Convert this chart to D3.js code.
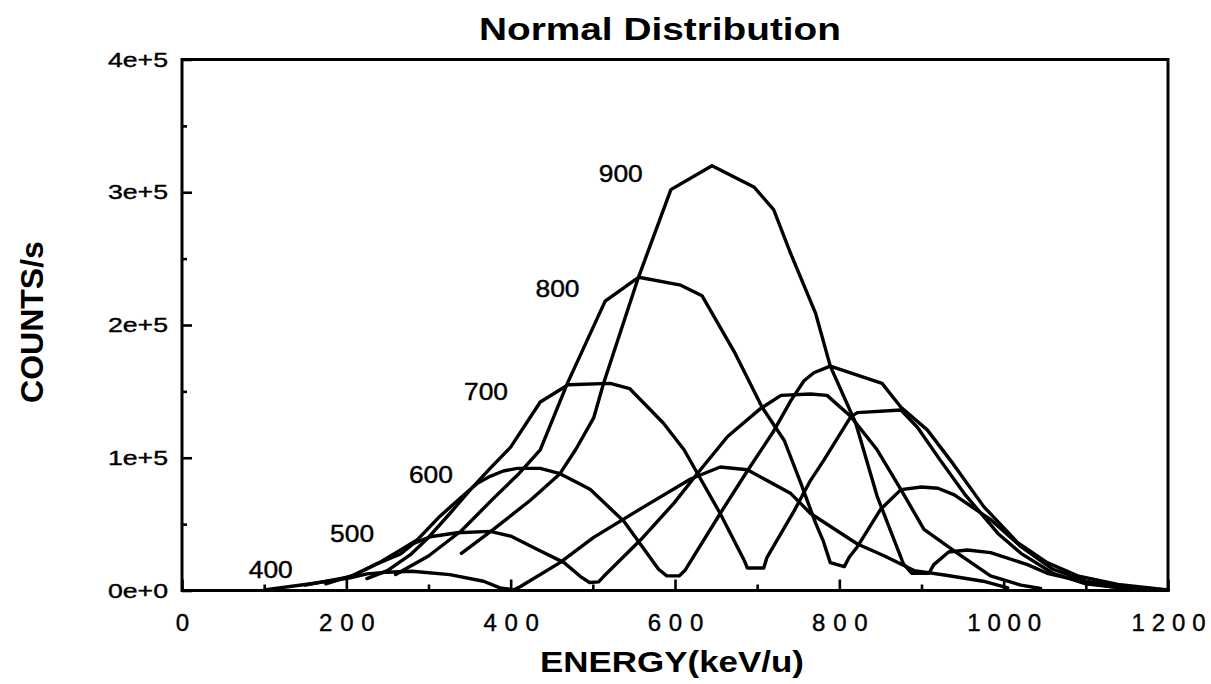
<!DOCTYPE html>
<html>
<head>
<meta charset="utf-8">
<script src="https://cdn.jsdelivr.net/npm/d3@7"></script>
<style>
  body { margin: 0; background: #fff; }
  text { font-family: "Liberation Sans", Arial, Helvetica, sans-serif; fill: #000; }
</style>
</head>
<body>
<svg id="chart" width="1211" height="684"></svg>
<script>
// energy (keV/u) and counts/s for each beam energy
var e400 = [100, 150, 205, 225, 250, 280, 326, 367, 387, 404, 412, 420, 460, 501, 562, 619, 655, 688, 741, 765, 822, 855, 891, 930, 975, 1005];
var c400 = [500, 4500, 9500, 12500, 13800, 14500, 12000, 7000, 2000, 500, 3000, 6000, 21000, 40000, 63000, 84000, 93000, 91000, 73000, 58000, 35000, 26000, 15000, 11500, 7000, 2000];

var e500 = [150, 205, 237, 266, 282, 302, 335, 375, 400, 432, 465, 485, 496, 507, 513, 558, 599, 627, 664, 704, 729, 765, 785, 814, 846, 875, 903, 944, 984, 1021, 1045];
var c500 = [4000, 10500, 20000, 27500, 35500, 40500, 43500, 44500, 41000, 31000, 21000, 10500, 6000, 6500, 10500, 38000, 66000, 88000, 116000, 137000, 147000, 148000, 147000, 131000, 106000, 76000, 46000, 28000, 11000, 4000, 1500];

var e600 = [175, 211, 240, 266, 286, 314, 343, 359, 375, 391, 408, 436, 460, 485, 497, 538, 580, 590, 605, 612, 655, 688, 720, 741, 757, 769, 789, 852, 875, 907, 939, 976, 1017, 1053, 1090, 1139, 1200];
var c600 = [5000, 12000, 21000, 30500, 38000, 56000, 72000, 80500, 86000, 90000, 92000, 92000, 88000, 80000, 76000, 52000, 16000, 11000, 11000, 15000, 58000, 90000, 120000, 143000, 158000, 164000, 169000, 156000, 138000, 121000, 95000, 63000, 36000, 21000, 11000, 4500, 500];

var e700 = [225, 250, 278, 300, 326, 351, 375, 400, 436, 470, 521, 545, 586, 611, 655, 684, 688, 708, 712, 745, 765, 781, 814, 822, 875, 895, 923, 952, 993, 1021, 1060, 1100, 1150, 1200];
var c700 = [9000, 15000, 27000, 40000, 58000, 76000, 92000, 108000, 142000, 155000, 156000, 152000, 126000, 106000, 58000, 23000, 17000, 17000, 25000, 60000, 83000, 98000, 131000, 134000, 136000, 123000, 98000, 73000, 43000, 28000, 13000, 5000, 1500, 300];

var e800 = [260, 300, 340, 380, 410, 436, 469, 515, 556, 607, 633, 672, 706, 733, 753, 771, 780, 789, 806, 812, 822, 850, 875, 900, 920, 940, 985, 1021, 1060, 1100, 1150, 1200];
var c800 = [12000, 26000, 45000, 70000, 88000, 106000, 156000, 218000, 236000, 230000, 222000, 180000, 138000, 113000, 81000, 51000, 38000, 21000, 18000, 25000, 33000, 61000, 76000, 78000, 77000, 72000, 53000, 33000, 16000, 7000, 2000, 500];

var e900 = [340, 379, 424, 460, 479, 501, 513, 555, 595, 645, 696, 720, 740, 771, 789, 820, 846, 878, 888, 909, 915, 933, 956, 984, 1029, 1053, 1094, 1130, 1167, 1200];
var c900 = [28000, 46000, 68000, 88000, 106000, 130000, 156000, 235000, 302000, 320000, 304000, 287000, 255000, 209000, 169000, 126000, 71000, 20000, 13000, 13000, 19500, 29000, 30500, 28500, 19500, 13000, 7000, 3000, 1000, 200];

var seriesNames = ["400", "500", "600", "700", "800", "900"];
var energies = [e400, e500, e600, e700, e800, e900];
var counts = [c400, c500, c600, c700, c800, c900];

// where each curve's label sits (keV/u, counts/s)
var labelEnergy = [108, 207, 303, 370, 457, 534];
var labelCounts = [9400, 36500, 80900, 143400, 220900, 307400];

var xTicks = [0, 200, 400, 600, 800, 1000, 1200];
var xMinor = [100, 300, 500, 700, 900, 1100];
var yTicks = [0, 100000, 200000, 300000, 400000];
var yMinor = [50000, 150000, 250000, 350000];

var svg = d3.select("#chart");

var x = d3.scaleLinear([0, 1200], [182, 1168]);
var y = d3.scaleLinear([0, 400000], [590.5, 59.5]);

var line = d3.line()
    .x(d => x(d[0]))
    .y(d => y(d[1]));

// curves
seriesNames.forEach(function (name, i) {
    var pts = energies[i].map((e, j) => [e, counts[i][j]]);
    svg.append("path")
        .datum(pts)
        .attr("d", line)
        .attr("fill", "none")
        .attr("stroke", "#000")
        .attr("stroke-width", 3.4)
        .attr("stroke-linejoin", "round")
        .attr("stroke-linecap", "round");
});

// axes, ticks pointing inwards
var xAxis = svg.append("g")
    .attr("transform", "translate(0," + y(0) + ")")
    .call(d3.axisBottom(x).tickValues(xTicks).tickSize(-11).tickPadding(23).tickFormat(d3.format("d")));
var xMinorAxis = svg.append("g")
    .attr("transform", "translate(0," + y(0) + ")")
    .call(d3.axisBottom(x).tickValues(xMinor).tickSize(-6).tickFormat(""));

var yAxis = svg.append("g")
    .attr("transform", "translate(" + x(0) + ",0)")
    .call(d3.axisLeft(y).tickValues(yTicks).tickSize(-10).tickPadding(14)
        .tickFormat(d => d === 0 ? "0e+0" : (d / 100000) + "e+5"));
var yMinorAxis = svg.append("g")
    .attr("transform", "translate(" + x(0) + ",0)")
    .call(d3.axisLeft(y).tickValues(yMinor).tickSize(-5).tickFormat(""));

[xAxis, xMinorAxis, yAxis, yMinorAxis].forEach(function (g) {
    g.select(".domain").remove();
    g.selectAll(".tick line").attr("stroke", "#000").attr("stroke-width", 2.6);
});

// the x tick numbers are printed with wide letter spacing
xAxis.attr("font-size", 24).attr("font-family", null);
xAxis.selectAll("text")
    .attr("textLength", d => String(d).length == 1 ? 14 : String(d).length * 18.5)
    .attr("lengthAdjust", "spacing")
    .attr("stroke", "#000")
    .attr("stroke-width", 0.4);

yAxis.attr("font-size", 21).attr("font-family", null);
yAxis.selectAll("text")
    .attr("textLength", 60)
    .attr("lengthAdjust", "spacingAndGlyphs")
    .attr("stroke", "#000")
    .attr("stroke-width", 0.4);

// frame
svg.append("rect")
    .attr("x", x(0))
    .attr("y", y(400000))
    .attr("width", x(1200) - x(0))
    .attr("height", y(0) - y(400000))
    .attr("fill", "none")
    .attr("stroke", "#000")
    .attr("stroke-width", 3);

// curve labels
svg.append("g").selectAll("text")
    .data(seriesNames)
    .join("text")
    .attr("x", (d, i) => x(labelEnergy[i]))
    .attr("y", (d, i) => y(labelCounts[i]))
    .attr("text-anchor", "middle")
    .attr("font-size", 23)
    .attr("textLength", 44)
    .attr("lengthAdjust", "spacingAndGlyphs")
    .attr("stroke", "#000")
    .attr("stroke-width", 0.4)
    .text(d => d);

// titles
svg.append("text")
    .attr("x", 660)
    .attr("y", 40)
    .attr("text-anchor", "middle")
    .attr("font-size", 32)
    .attr("font-weight", "bold")
    .attr("textLength", 362)
    .attr("lengthAdjust", "spacingAndGlyphs")
    .text("Normal Distribution");

svg.append("text")
    .attr("x", 672)
    .attr("y", 672)
    .attr("text-anchor", "middle")
    .attr("font-size", 30)
    .attr("font-weight", "bold")
    .attr("textLength", 264)
    .attr("lengthAdjust", "spacingAndGlyphs")
    .text("ENERGY(keV/u)");

svg.append("text")
    .attr("transform", "translate(43,322) rotate(-90)")
    .attr("text-anchor", "middle")
    .attr("font-size", 32)
    .attr("font-weight", "bold")
    .text("COUNTS/s");
</script>
</body>
</html>
